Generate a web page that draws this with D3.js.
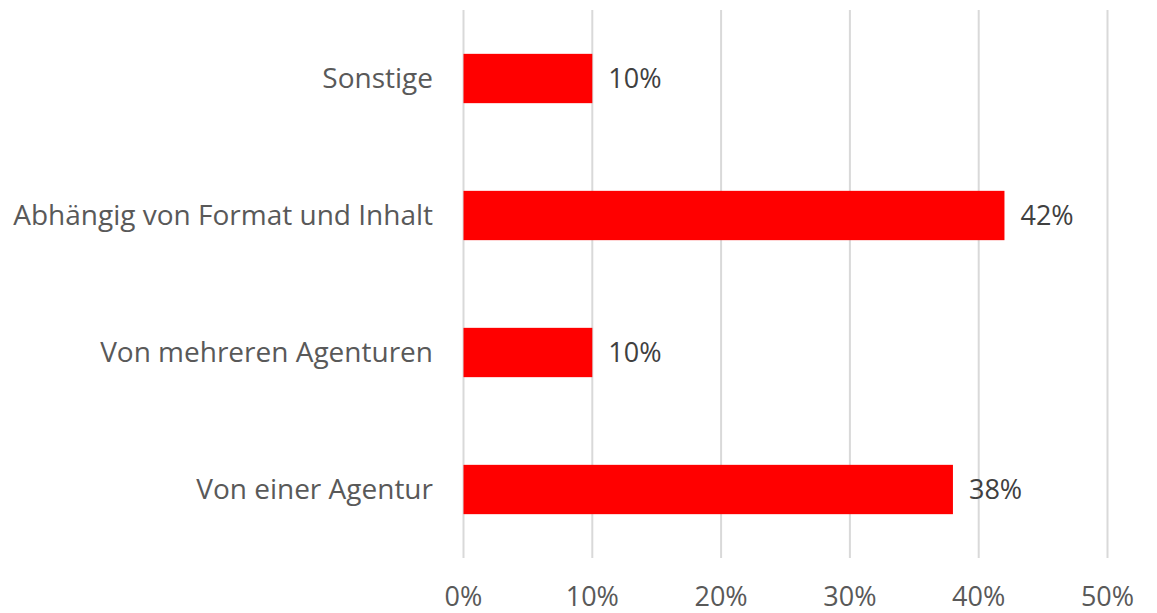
<!DOCTYPE html>
<html><head><meta charset="utf-8">
<script src="https://cdn.jsdelivr.net/npm/d3@7"></script>
<style>body{margin:0;background:#fff;}svg{display:block;}</style>
</head><body>
<svg id="c" width="1157" height="613"></svg>
<script>
const categories = ["Sonstige", "Abhängig von Format und Inhalt", "Von mehreren Agenturen", "Von einer Agentur"];
const values = [0.10, 0.42, 0.10, 0.38];
const tickValues = [0, 0.1, 0.2, 0.3, 0.4, 0.5];

const svg = d3.select("#c");
const font = "'Open Sans', sans-serif";
const x = d3.scaleLinear().domain([0, 0.5]).range([463.5, 1107.5]);
const y = d3.scaleBand().domain(categories).range([10, 558]).paddingInner(0.64).paddingOuter(0.32);
const fmt = d3.format(".0%");

svg.append("g").selectAll("line").data(tickValues).join("line")
  .attr("x1", d => x(d)).attr("x2", d => x(d))
  .attr("y1", 10).attr("y2", 558)
  .attr("stroke", "#d9d9d9").attr("stroke-width", 2);

svg.append("g").selectAll("rect").data(values).join("rect")
  .attr("x", x(0)).attr("y", (d, i) => y(categories[i]))
  .attr("width", d => x(d) - x(0)).attr("height", y.bandwidth())
  .attr("fill", "#ff0000");

svg.append("g").selectAll("text").data(values).join("text")
  .attr("x", d => x(d) + 16).attr("y", (d, i) => y(categories[i]) + y.bandwidth() / 2)
  .attr("dy", "0.35em")
  .attr("font-family", font).attr("font-size", 27).attr("fill", "#404040")
  .text(d => fmt(d));

svg.append("g").selectAll("text").data(categories).join("text")
  .attr("x", 433).attr("y", d => y(d) + y.bandwidth() / 2)
  .attr("dy", "0.35em").attr("text-anchor", "end")
  .attr("font-family", font).attr("font-size", 28).attr("fill", "#595959")
  .text(d => d);

svg.append("g").selectAll("text").data(tickValues).join("text")
  .attr("x", d => x(d)).attr("y", 597).attr("dy", "0.35em").attr("text-anchor", "middle")
  .attr("font-family", font).attr("font-size", 27).attr("fill", "#595959")
  .text(d => fmt(d));
</script>
</body></html>
